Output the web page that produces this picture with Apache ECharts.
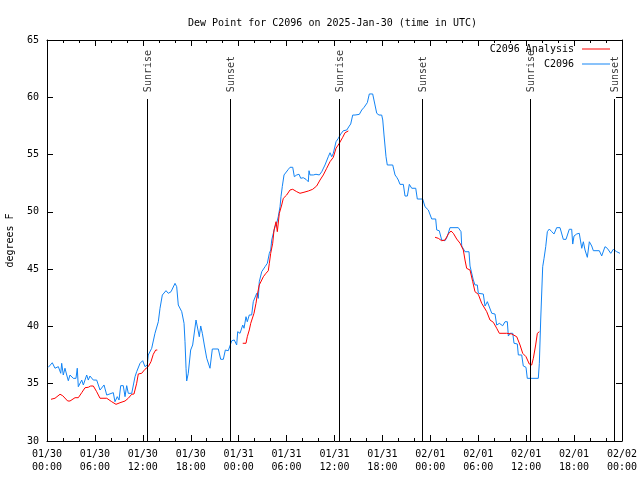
<!DOCTYPE html>
<html>
<head>
<meta charset="utf-8">
<script src="https://cdn.jsdelivr.net/npm/echarts@6/dist/echarts.min.js"></script>
<style>html,body{margin:0;padding:0;background:#fff}#c{width:640px;height:480px}</style>
</head>
<body>
<div id="c"></div>
<script>
// hours since 2025-01-30 00:00 UTC
const xTickLabels = ['01/30\n00:00','01/30\n06:00','01/30\n12:00','01/30\n18:00','01/31\n00:00','01/31\n06:00','01/31\n12:00','01/31\n18:00','02/01\n00:00','02/01\n06:00','02/01\n12:00','02/01\n18:00','02/02\n00:00'];

const blueHours = [0.16,0.66,1.0,1.42,1.72,1.84,2.04,2.25,2.47,2.67,2.88,3.29,3.63,3.79,3.92,4.35,4.55,4.97,5.17,5.38,5.80,6.22,6.64,7.14,7.48,8.30,8.51,8.80,9.02,9.23,9.55,9.77,9.98,10.18,10.61,11.02,11.23,11.43,11.65,11.98,12.27,12.56,12.68,13.11,13.52,13.94,14.15,14.44,14.90,15.19,15.53,15.74,16.03,16.24,16.44,16.87,17.16,17.28,17.41,17.49,17.69,17.99,18.24,18.41,18.66,18.87,19.07,19.25,19.45,19.70,20.00,20.41,20.70,21.45,21.75,22.08,22.33,22.70,23.13,23.45,23.75,23.88,24.17,24.51,24.67,24.92,25.08,25.33,25.63,25.83,26.05,26.26,26.46,26.58,26.89,27.09,27.30,27.59,27.84,28.01,28.14,28.34,28.55,28.76,28.96,29.18,29.30,29.46,29.68,29.93,30.22,30.43,30.77,30.97,31.27,31.56,31.77,32.09,32.43,32.72,32.81,32.93,33.35,33.68,34.10,34.40,34.81,35.22,35.44,35.65,35.85,36.19,36.48,36.78,37.10,37.53,37.85,38.03,38.28,38.57,39.11,39.41,39.70,39.94,40.11,40.36,40.78,41.07,41.29,41.57,41.91,42.04,42.20,42.45,42.61,43.29,43.58,43.79,43.99,44.20,44.62,44.83,45.12,45.37,45.67,46.17,46.37,47.04,47.33,47.75,48.17,48.67,48.80,49.12,49.42,49.84,50.12,50.46,51.50,51.84,51.93,52.34,52.84,52.97,53.18,53.38,53.59,53.88,54.01,54.22,54.63,54.85,55.14,55.39,55.69,56.10,56.31,56.64,56.81,57.06,57.35,57.64,57.77,57.98,58.32,58.48,58.89,59.02,59.44,59.64,59.98,60.14,61.52,61.65,61.82,62.07,62.24,62.45,62.65,62.90,63.20,63.49,63.82,64.24,64.65,64.99,65.40,65.70,65.83,65.99,66.33,66.65,66.96,67.16,67.37,67.66,67.91,68.21,68.41,69.16,69.46,69.87,70.16,70.59,70.91,71.34,71.75];
const blueValues = [36.43,36.83,36.35,36.49,35.91,36.78,35.76,36.35,35.76,35.26,35.76,35.47,35.47,36.35,34.74,35.32,34.89,35.76,35.32,35.67,35.32,35.32,34.45,34.89,34.01,34.22,33.43,33.87,33.58,34.83,34.83,33.87,34.83,34.16,34.16,35.61,36.05,35.91,36.78,37.01,36.49,36.63,37.51,38.09,39.40,40.41,41.58,42.74,43.12,42.89,43.03,42.94,43.76,43.47,41.87,41.29,40.27,38.67,36.35,35.24,35.91,37.94,38.38,38.53,40.56,40.41,39.10,40.04,39.40,38.38,37.22,36.35,38.03,38.03,37.13,37.13,37.94,37.88,38.75,38.82,38.38,39.54,39.40,40.12,39.84,40.85,40.41,41.00,41.00,42.16,42.31,42.89,42.45,43.90,44.78,44.64,45.21,45.51,46.38,46.67,47.54,48.13,48.70,49.00,49.58,50.45,51.32,52.20,53.22,53.36,53.71,53.89,53.89,53.07,53.22,53.28,52.93,52.98,52.84,52.63,53.59,53.22,53.22,53.28,53.22,53.50,54.09,54.81,55.16,54.81,55.11,56.12,56.42,56.79,57.08,57.14,57.49,57.67,58.45,58.45,58.51,58.89,59.12,59.24,59.53,60.29,60.29,59.33,58.60,58.45,58.45,58.02,56.71,54.81,54.09,54.09,53.22,53.02,52.78,52.40,52.40,51.38,51.38,52.40,52.06,52.06,51.12,51.12,50.45,50.16,49.38,49.38,48.42,48.35,47.54,47.48,47.83,48.62,48.62,48.27,47.02,46.52,46.52,45.27,45.27,44.05,43.62,43.62,42.89,42.89,42.83,41.78,42.16,42.16,41.15,41.08,40.12,40.27,40.41,40.06,40.41,40.41,39.16,39.40,39.40,38.53,38.47,37.51,37.51,36.55,36.43,35.47,35.47,36.78,40.56,45.21,45.95,46.96,48.27,48.50,48.27,48.07,48.62,48.62,47.60,47.60,48.48,48.48,47.19,47.89,48.07,48.13,46.82,47.39,46.67,46.03,47.39,47.02,46.61,46.61,46.15,46.96,46.82,46.38,46.73,46.52,46.38];

const redHours = [0.50,1.00,1.63,1.97,2.59,2.88,3.51,3.92,4.35,4.76,5.17,5.47,5.80,6.22,6.64,7.48,8.10,8.64,9.14,9.77,10.18,10.61,10.89,11.23,11.43,11.86,12.27,12.68,13.02,13.31,13.61,13.81,
  19.0,
  24.51,24.92,25.08,25.33,25.51,25.76,25.92,26.17,26.33,26.58,26.89,27.09,27.42,27.71,27.84,28.01,28.26,28.43,28.68,28.84,29.09,29.39,29.59,30.01,30.43,30.77,31.27,31.68,32.18,32.72,33.27,33.77,34.19,34.60,35.02,35.44,35.85,36.19,36.60,37.03,37.32,37.73,
  43.0,
  48.59,49.00,49.42,49.84,50.25,50.59,50.88,51.30,51.72,52.13,52.34,52.55,52.97,53.31,53.59,54.01,54.43,55.06,55.47,55.89,56.31,56.64,57.56,58.19,58.82,59.23,59.57,59.98,60.39,60.69,60.90,61.19,61.40,61.65];
const redValues = [33.64,33.73,34.08,33.95,33.49,33.49,33.78,33.78,34.22,34.65,34.69,34.80,34.80,34.30,33.73,33.73,33.43,33.20,33.34,33.49,33.73,34.08,34.10,35.04,35.85,35.91,36.26,36.49,36.92,37.57,37.94,37.94,
  null,
  38.53,38.53,39.10,39.69,40.27,40.41,41.15,42.02,42.74,43.62,44.05,44.34,44.64,44.86,45.51,46.38,47.26,48.42,49.14,48.27,49.87,50.60,51.18,51.47,51.91,51.97,51.76,51.62,51.71,51.82,51.97,52.26,52.78,53.22,53.80,54.38,54.76,55.55,55.98,56.51,56.91,57.06,
  null,
  47.78,47.69,47.48,47.54,48.07,48.33,48.13,47.63,47.26,46.67,45.80,45.07,44.92,43.90,43.03,42.80,42.02,41.29,40.56,40.36,39.84,39.40,39.40,39.34,39.10,38.38,37.65,37.36,36.72,36.63,37.22,38.38,39.40,39.54];

const sunHours = [12.56, 22.95, 36.60, 47.00, 60.52, 71.04];
const sunLabels = ['Sunrise','Sunset','Sunrise','Sunset','Sunrise','Sunset'];

const FONT = 'DejaVu Sans Mono';
const chart = echarts.init(document.getElementById('c'), null, {renderer:'canvas'});

const blueData = blueHours.map((h,i)=>[h, blueValues[i]]);
const redData = redHours.map((h,i)=>[h, redValues[i] === null ? '-' : redValues[i]]);

const axisCommonX = {
  type:'value', min:0, max:72, interval:6,
  axisLine:{show:true, onZero:false, lineStyle:{color:'#000', width:1}},
  axisTick:{show:true, inside:true, length:6, lineStyle:{color:'#000'}},
  minorTick:{show:true, splitNumber:3, length:3, lineStyle:{color:'#000'}},
  splitLine:{show:false}
};
const axisCommonY = {
  type:'value', min:30, max:65, interval:5,
  axisLine:{show:true, onZero:false, lineStyle:{color:'#000', width:1}},
  axisTick:{show:true, inside:true, length:6, lineStyle:{color:'#000'}},
  splitLine:{show:false}
};
const legendCommon = {padding:0, orient:'vertical', align:'right', right:30, itemWidth:28, itemHeight:1,
  textStyle:{fontFamily:FONT, fontSize:10, color:'#000', padding:[0,3,0,0]}};

const option = {
  animation:false,
  backgroundColor:'#fff',
  title:{text:'Dew Point for C2096 on 2025-Jan-30 (time in UTC)', left:183, top:13,
    textStyle:{fontFamily:FONT, fontSize:10, fontWeight:'normal', color:'#000'}},
  grid:{left:47, right:18, top:40, bottom:39, containLabel:false, outerBoundsMode:'none'},
  legend:[
    Object.assign({}, legendCommon, {top:44, data:[{name:'C2096 Analysis', icon:'rect'}]}),
    Object.assign({}, legendCommon, {top:59, data:[{name:'C2096', icon:'rect'}]})
  ],
  xAxis:[
    Object.assign({}, axisCommonX, {position:'bottom',
      axisLabel:{show:true, formatter:(v)=>xTickLabels[Math.round(v/6)], fontFamily:FONT, fontSize:10, color:'#000', lineHeight:13, margin:7}}),
    Object.assign({}, axisCommonX, {position:'top', axisLabel:{show:false}})
  ],
  yAxis:[
    Object.assign({}, axisCommonY, {position:'left', name:'degrees F', nameLocation:'middle', nameGap:32, nameRotate:90,
      nameTextStyle:{fontFamily:FONT, fontSize:10, color:'#000'},
      axisLabel:{show:true, fontFamily:FONT, fontSize:10, color:'#000', margin:8}}),
    Object.assign({}, axisCommonY, {position:'right', axisLabel:{show:false}})
  ],
  series:[
    {name:'C2096', type:'line', data:blueData, symbol:'none', xAxisIndex:0, yAxisIndex:0,
     lineStyle:{color:'#1284f5', width:1}, itemStyle:{color:'#1284f5'}, z:2,
     markLine:{silent:true, symbol:'none', animation:false,
       lineStyle:{color:'#000', width:1, type:'solid'}, label:{show:false},
       data: sunHours.map(h=>[{coord:[h,30]},{coord:[h,59.85]}])}},
    {name:'C2096 Analysis', type:'line', data:redData, symbol:'none', connectNulls:false, xAxisIndex:0, yAxisIndex:0,
     lineStyle:{color:'#ff0000', width:1}, itemStyle:{color:'#ff0000'}, z:3},
    {name:'sun', type:'scatter', symbolSize:1, itemStyle:{color:'rgba(0,0,0,0)'}, silent:true, z:4,
     data: sunHours.map((h,i)=>({name:sunLabels[i], value:[h+0.15, 60.45]})),
     label:{show:true, formatter:'{b}', position:'inside', rotate:90, align:'left', verticalAlign:'middle',
       fontFamily:FONT, fontSize:10, color:'#000'}}
  ]
};
chart.setOption(option);
</script>
</body>
</html>
